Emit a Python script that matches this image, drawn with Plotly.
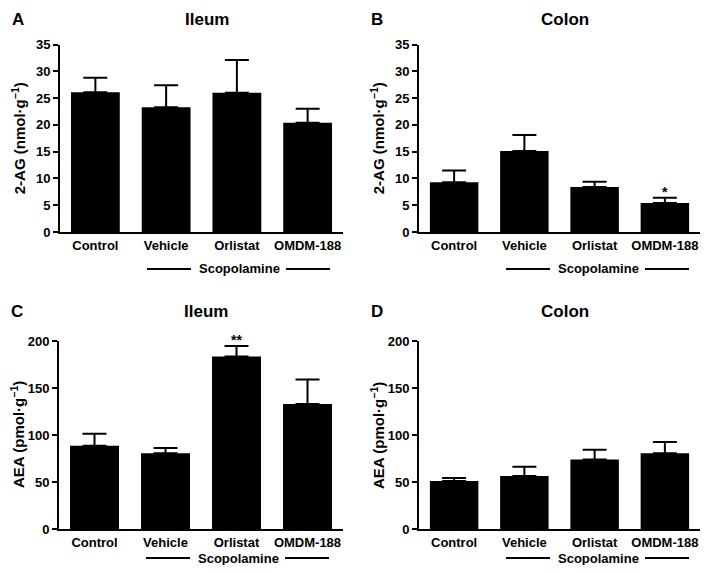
import plotly.graph_objects as go

categories = ["Control", "Vehicle", "Orlistat", "OMDM-188"]

ag_ileum = [26.1, 23.3, 26.0, 20.4]
ag_ileum_err = [2.7, 4.1, 6.1, 2.6]
ag_colon = [9.3, 15.1, 8.4, 5.4]
ag_colon_err = [2.2, 3.0, 1.0, 1.0]
aea_ileum = [88.5, 80.5, 183.5, 133.0]
aea_ileum_err = [12.8, 5.8, 11.3, 26.0]
aea_colon = [51.0, 56.5, 74.0, 80.5]
aea_colon_err = [3.2, 9.7, 10.3, 12.0]

ag_ticks = [0, 5, 10, 15, 20, 25, 30, 35]
aea_ticks = [0, 50, 100, 150, 200]

panels = [
    ("A", "Ileum", ag_ileum, ag_ileum_err, "2-AG (nmol·g<sup>−1</sup>)", ag_ticks, [0, 35], None),
    ("B", "Colon", ag_colon, ag_colon_err, "2-AG (nmol·g<sup>−1</sup>)", ag_ticks, [0, 35], (3, "*")),
    ("C", "Ileum", aea_ileum, aea_ileum_err, "AEA (pmol·g<sup>−1</sup>)", aea_ticks, [0, 200], (2, "**")),
    ("D", "Colon", aea_colon, aea_colon_err, "AEA (pmol·g<sup>−1</sup>)", aea_ticks, [0, 200], None),
]

# page is offset by the default 8px body margin; figure is sized to fit inside
OFF = 8
W, H = 709 - 2 * OFF, 573 - 2 * OFF
FONT = "Liberation Sans"


def px(x):
    return min(max((x - OFF) / W, 0), 1)


def py(y):
    return min(max(1 - (y - OFF) / H, 0), 1)


# page-pixel layout for each panel: (x_left, x_right, y_top, y_bottom, title_y, scop_y)
boxes = [
    (60, 343, 44.5, 232, 19, 269),
    (419, 700, 44.5, 232, 19, 269),
    (59, 343, 341, 529, 311, 558),
    (419, 700, 341, 529, 311, 558),
]

fig = go.Figure()
annotations = []
shapes = []

for i, ((letter, title, vals, errs, ylab, ticks, yr, star), box) in enumerate(zip(panels, boxes)):
    n = i + 1
    xa = "x" if n == 1 else f"x{n}"
    ya = "y" if n == 1 else f"y{n}"
    xl, xr, yt, yb, ty, sy = box
    fig.add_trace(go.Bar(
        x=categories, y=vals, xaxis=xa, yaxis=ya,
        marker=dict(color="black", line=dict(width=0)),
        width=0.69,
        error_y=dict(type="data", array=errs, arrayminus=[0] * len(errs), symmetric=False,
                     color="black", thickness=2, width=12),
        showlegend=False, hoverinfo="skip",
    ))
    xkey = "xaxis" if n == 1 else f"xaxis{n}"
    ykey = "yaxis" if n == 1 else f"yaxis{n}"
    fig.update_layout(**{
        xkey: dict(domain=[px(xl), px(xr)], anchor=ya, type="category", automargin=False,
                   range=[-0.5, 3.5], showline=True, linecolor="black", linewidth=2,
                   ticks="", showgrid=False, zeroline=False,
                   tickfont=dict(family=FONT, size=13, color="black", weight="bold")),
        ykey: dict(domain=[py(yb), py(yt)], anchor=xa, range=yr, automargin=False,
                   tickvals=ticks, showline=True, linecolor="black", linewidth=2,
                   ticks="outside", ticklen=5, tickwidth=2, tickcolor="black",
                   showgrid=False, zeroline=False,
                   tickfont=dict(family=FONT, size=13, color="black", weight="bold")),
    })
    # panel letter
    annotations.append(dict(text=letter, xref="paper", yref="paper",
                            x=px(xl - 50), y=py(ty), xanchor="left", yanchor="middle",
                            showarrow=False, font=dict(family=FONT, size=17, color="black", weight="bold")))
    # title
    annotations.append(dict(text=title, xref="paper", yref="paper",
                            x=px((xl + xr) / 2 + 5), y=py(ty), xanchor="center", yanchor="middle",
                            showarrow=False, font=dict(family=FONT, size=17, color="black", weight="bold")))
    # y label
    annotations.append(dict(text=ylab, xref="paper", yref="paper", textangle=-90,
                            x=px(xl - 42), y=py((yt + yb) / 2), xanchor="center", yanchor="middle",
                            showarrow=False, font=dict(family=FONT, size=15, color="black", weight="bold")))
    # scopolamine
    annotations.append(dict(text="Scopolamine", xref="paper", yref="paper",
                            x=px(xl + 179), y=py(sy), xanchor="center", yanchor="middle",
                            showarrow=False, font=dict(family=FONT, size=13, color="black", weight="bold")))
    shapes.append(dict(type="line", xref="paper", yref="paper",
                       x0=px(xl + 87), x1=px(xl + 131), y0=py(sy), y1=py(sy),
                       line=dict(color="black", width=2)))
    shapes.append(dict(type="line", xref="paper", yref="paper",
                       x0=px(xl + 226), x1=px(xl + 270), y0=py(sy), y1=py(sy),
                       line=dict(color="black", width=2)))
    if star is not None:
        idx, s = star
        annotations.append(dict(text=s, xref=xa, yref=ya, x=categories[idx],
                                y=vals[idx] + errs[idx], yshift=6, xanchor="center", yanchor="middle",
                                showarrow=False, font=dict(family=FONT, size=14, color="black", weight="bold")))

fig.update_layout(width=W, height=H, margin=dict(l=0, r=0, t=0, b=0, autoexpand=False),
                  paper_bgcolor="white", plot_bgcolor="white", bargap=0.31,
                  annotations=annotations, shapes=shapes)

fig.write_html("out.html")
